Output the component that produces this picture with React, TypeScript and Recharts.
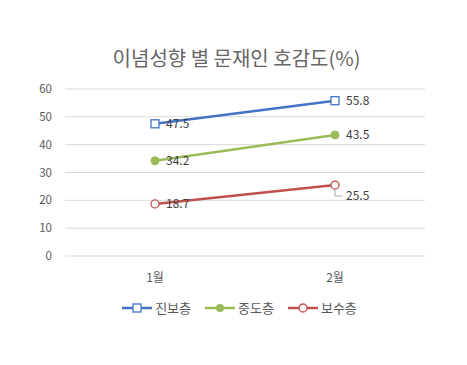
import React from 'react';
import { LineChart, Line, XAxis, YAxis, CartesianGrid, LabelList } from 'recharts';

const months = ['1월', '2월'];
const progressive = [47.5, 55.8];
const moderate = [34.2, 43.5];
const conservative = [18.7, 25.5];
const yTicks = [0, 10, 20, 30, 40, 50, 60];

const FONT = '"Noto Sans CJK KR", "Noto Sans", sans-serif';

const series = [
    { key: 'progressive', name: '진보층', color: '#4472C4', marker: 'square' },
    { key: 'moderate', name: '중도층', color: '#9BBB59', marker: 'dot' },
    { key: 'conservative', name: '보수층', color: '#C0504D', marker: 'ring' },
];

const data = months.map((m, i) => ({
    month: m,
    progressive: progressive[i],
    moderate: moderate[i],
    conservative: conservative[i],
}));

const makeDot = (color: string, marker: string) => (props: any) => {
    const { cx, cy, index } = props;
    if (cx == null || cy == null) return null;
    if (marker === 'square') {
        return <rect key={index} x={cx - 4} y={cy - 4} width={8} height={8} fill="#fff" stroke={color} strokeWidth={1.3} />;
    }
    if (marker === 'dot') {
        return <circle key={index} cx={cx} cy={cy} r={4} fill={color} stroke={color} strokeWidth={1} />;
    }
    return <circle key={index} cx={cx} cy={cy} r={4} fill="#fff" stroke={color} strokeWidth={1.3} />;
};

// labels sit to the right of each point; one label gets a leader line
const makeLabel = (withLeader: number) => (props: any) => {
    const { x, y, value, index } = props;
    if (index === withLeader) {
        return (
            <g>
                <polyline points={`${x},${y + 4} ${x},${y + 11} ${x + 7},${y + 11}`} fill="none" stroke="#a6a6a6" strokeWidth={1} />
                <text x={x + 11} y={y + 11} dy="0.35em" fontSize={12} fill="#404040" fontFamily={FONT}>{value}</text>
            </g>
        );
    }
    return (
        <text x={x + 11} y={y} dy="0.35em" fontSize={12} fill="#404040" fontFamily={FONT}>{value}</text>
    );
};

const LegendIcon = ({ color, marker }: { color: string; marker: string }) => (
    <svg width={30} height={10} style={{ marginRight: 3 }}>
        <line x1={0} y1={5} x2={30} y2={5} stroke={color} strokeWidth={2.5} />
        {marker === 'square' && <rect x={11} y={1} width={8} height={8} fill="#fff" stroke={color} strokeWidth={1.3} />}
        {marker === 'dot' && <circle cx={15} cy={5} r={4} fill={color} />}
        {marker === 'ring' && <circle cx={15} cy={5} r={4} fill="#fff" stroke={color} strokeWidth={1.3} />}
    </svg>
);

export default function App() {
    return (
        <div style={{ position: 'absolute', left: 0, top: 0, width: 467, height: 365, background: '#fff', fontFamily: FONT }}>
            <div style={{ position: 'absolute', top: 43, left: 0, width: 473, textAlign: 'center', fontSize: 20, color: '#666' }}>
                이념성향 별 문재인 호감도(%)
            </div>
            <LineChart width={467} height={365} data={data} margin={{ top: 89, right: 42, bottom: 79, left: 0 }}>
                <CartesianGrid vertical={false} stroke="#d9d9d9" strokeWidth={1} />
                <XAxis
                    dataKey="month"
                    axisLine={false}
                    tickLine={false}
                    tickSize={0}
                    tickMargin={17}
                    height={30}
                    padding={{ left: 90, right: 90 }}
                    tick={{ fill: '#595959', fontSize: 12, fontFamily: FONT }}
                />
                <YAxis
                    domain={[0, 60]}
                    ticks={yTicks}
                    width={65}
                    axisLine={false}
                    tickLine={false}
                    tickSize={0}
                    tickMargin={13}
                    tick={{ fill: '#595959', fontSize: 11.5, fontFamily: FONT }}
                />
                {series.map(s => (
                    <Line
                        key={s.key}
                        dataKey={s.key}
                        name={s.name}
                        stroke={s.color}
                        strokeWidth={2.5}
                        dot={makeDot(s.color, s.marker)}
                        activeDot={false}
                        isAnimationActive={false}
                    >
                        <LabelList dataKey={s.key} content={makeLabel(s.key === 'conservative' ? 1 : -1)} />
                    </Line>
                ))}
            </LineChart>
            <div style={{ position: 'absolute', top: 298, left: 0, width: 479, display: 'flex', justifyContent: 'center', fontSize: 13, color: '#595959' }}>
                {series.map(s => (
                    <div key={s.key} style={{ display: 'flex', alignItems: 'center', margin: '0 7px' }}>
                        <LegendIcon color={s.color} marker={s.marker} />
                        <span>{s.name}</span>
                    </div>
                ))}
            </div>
        </div>
    );
}
